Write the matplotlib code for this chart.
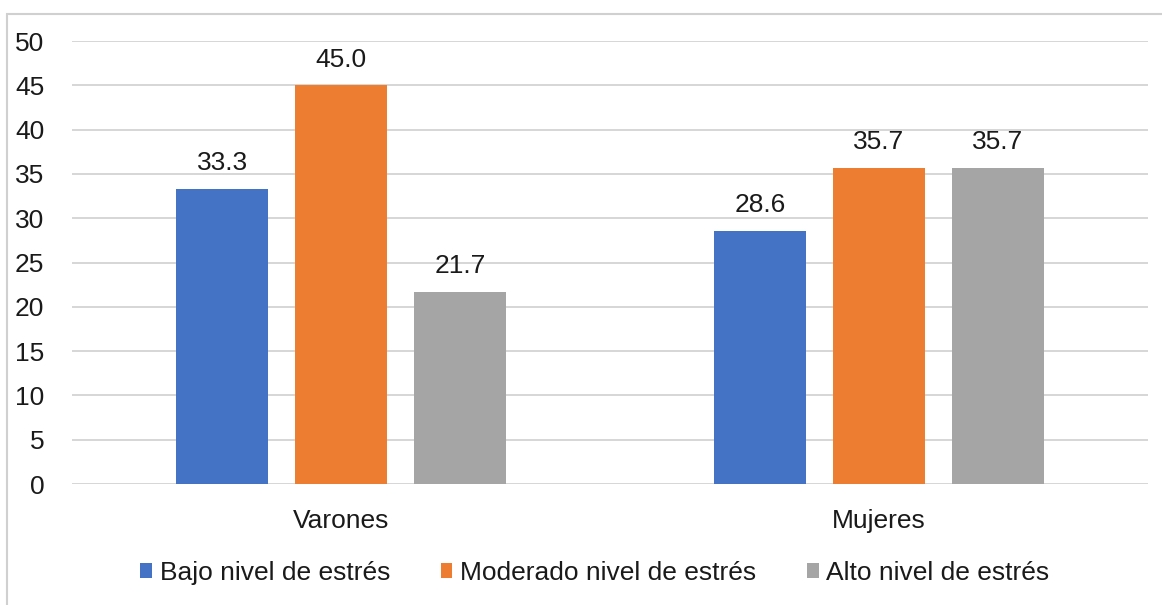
import numpy as np
import matplotlib
matplotlib.use("Agg")
import matplotlib.pyplot as plt
from matplotlib.patches import Rectangle

plt.rcParams['font.family'] = ['Liberation Sans', 'DejaVu Sans']

groups = ['Varones', 'Mujeres']
series = ['Bajo nivel de estrés', 'Moderado nivel de estrés', 'Alto nivel de estrés']
bajo = [33.3, 28.6]
moderado = [45.0, 35.7]
alto = [21.7, 35.7]
colors = ['#4472C4', '#ED7D31', '#A5A5A5']
yticks = [0, 5, 10, 15, 20, 25, 30, 35, 40, 45, 50]

txt = '#1a1a1a'
fs = 19

fig = plt.figure(figsize=(11.62, 6.05), dpi=100)
ax = fig.add_axes([0.062, 0.2, 0.926, 0.732])

x = np.arange(len(groups))
width = 0.171
step = 0.221
for i, (vals, name) in enumerate(zip([bajo, moderado, alto], series)):
    pos = x + (i - 1) * step
    bars = ax.bar(pos, vals, width, color=colors[i], label=name, zorder=3)
    for b, v in zip(bars, vals):
        ax.annotate(f'{v:.1f}', (b.get_x() + b.get_width() / 2, v),
                    xytext=(0, 10), textcoords='offset points',
                    ha='center', va='bottom', fontsize=fs, color=txt)

ax.set_xlim(-0.5, 1.5)
ax.set_ylim(0, 50)
ax.set_yticks(yticks)
ax.set_xticks(x)
ax.set_xticklabels(groups)
ax.grid(axis='y', color='#D6D6D6', linewidth=1.4, zorder=0)
for s in ax.spines.values():
    s.set_visible(False)
ax.tick_params(axis='both', length=0, labelsize=fs, colors=txt)
ax.tick_params(axis='x', pad=18)
ax.tick_params(axis='y', pad=20)

fig.legend(loc='center', bbox_to_anchor=(0.512, 0.053), ncol=3, frameon=False,
           fontsize=fs, handlelength=0.45, handleheight=0.45, handletextpad=0.3,
           columnspacing=1.9, labelcolor=txt)

fig.patches.append(Rectangle((7, -10), 1200, 605 - 14 + 10, transform=None,
                             fill=False, edgecolor='#D0D0D0', linewidth=1.5))

fig.savefig('out.png', dpi=100)
